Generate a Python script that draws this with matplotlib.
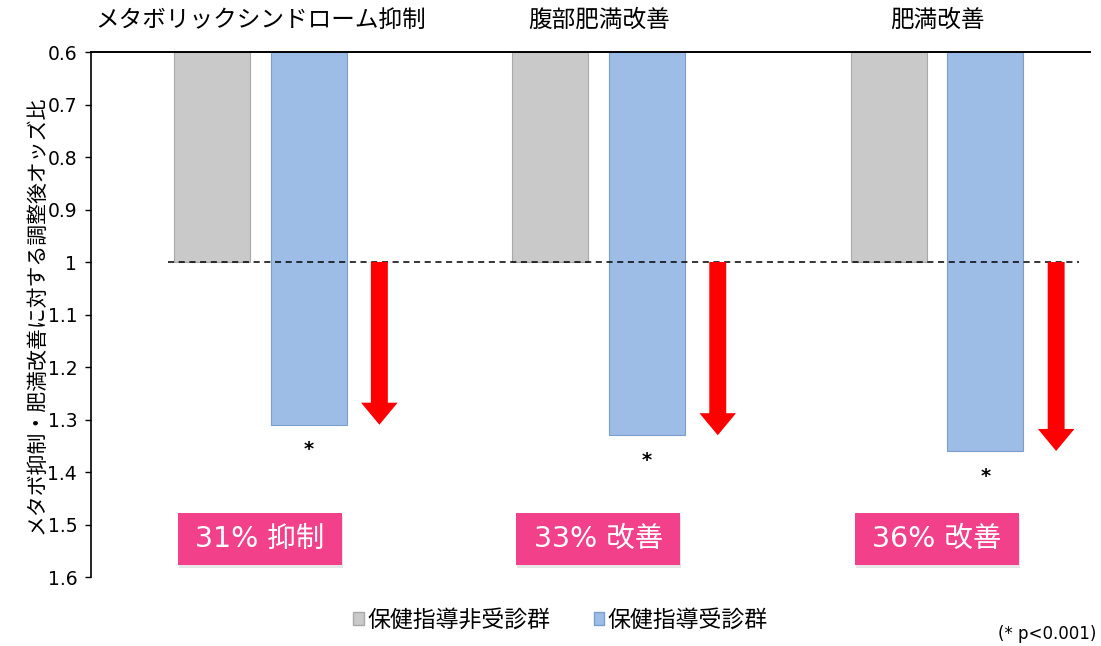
import matplotlib
matplotlib.use("Agg")
import numpy as np
import matplotlib.pyplot as plt
from matplotlib.patches import Patch, Rectangle, FancyArrow

plt.rcParams["font.family"] = ["Noto Sans CJK JP", "DejaVu Sans"]
LATIN = ["DejaVu Sans", "Noto Sans CJK JP"]

# data
categories = ["メタボリックシンドローム抑制", "腹部肥満改善", "肥満改善"]
non_guided = [1.0, 1.0, 1.0]          # 保健指導非受診群
guided = [1.31, 1.33, 1.36]           # 保健指導受診群
effect_labels = ["31% 抑制", "33% 改善", "36% 改善"]
legend_labels = ["保健指導非受診群", "保健指導受診群"]
y_ticks = [0.6, 0.7, 0.8, 0.9, 1.0, 1.1, 1.2, 1.3, 1.4, 1.5, 1.6]
y_ticklabels = ["0.6", "0.7", "0.8", "0.9", "1", "1.1", "1.2", "1.3", "1.4", "1.5", "1.6"]
baseline = 1.0
axis_top = 0.6

GRAY = "#c9c9c9"
GRAY_EDGE = "#a8a8a8"
BLUE = "#9dbde6"
BLUE_EDGE = "#7b9fcc"
RED = "#ff0000"
PINK = "#f2418a"

fig = plt.figure(figsize=(11.01, 6.46), dpi=100)
ax = fig.add_axes([0.0827, 0.1068, 0.9073, 0.8127])

x = np.arange(len(categories))
bw = 0.225
off = 0.143

ax.bar(x - off, np.array(non_guided) - axis_top, bottom=axis_top, width=bw,
       color=GRAY, edgecolor=GRAY_EDGE, linewidth=0.8)
ax.bar(x + off, np.array(guided) - axis_top, bottom=axis_top, width=bw,
       color=BLUE, edgecolor=BLUE_EDGE, linewidth=0.8)

# reference line at odds ratio 1
ax.plot([-0.272, 2.421], [baseline, baseline], color="black", lw=1.1,
        ls=(0, (4, 3)), zorder=3)

for i, v in enumerate(guided):
    # red arrow showing improvement
    ax.add_patch(FancyArrow(x[i] + 0.352, baseline, 0, v - baseline,
                            width=0.05, head_width=0.108, head_length=0.042,
                            length_includes_head=True, color=RED, lw=0, zorder=4))
    ax.text(x[i] + off, v + 0.048, "*", ha="center", va="center",
            fontsize=14, fontweight="bold", family="DejaVu Sans")
    # pink effect box with a faint shadow
    ax.add_patch(Rectangle((x[i] - 0.240, 1.483), 0.484, 0.099,
                           facecolor="#e6e6e6", edgecolor="none", zorder=3))
    ax.add_patch(Rectangle((x[i] - 0.243, 1.478), 0.484, 0.099,
                           facecolor=PINK, edgecolor="none", zorder=4))
    ax.text(x[i] - 0.001, 1.528, effect_labels[i], ha="center", va="center",
            color="white", fontsize=20.5, family=LATIN, zorder=5)
    ax.text(x[i], axis_top - 0.06, categories[i], ha="center", va="center",
            fontsize=17)

ax.set_xlim(-0.5, 2.452)
ax.set_ylim(1.6, 0.6)
ax.set_yticks(y_ticks)
ax.set_yticklabels(y_ticklabels, fontsize=13.5, family="DejaVu Sans")
ax.set_xticks([])
ax.tick_params(axis="y", direction="out", length=4, width=1, pad=6)
for s in ["right", "bottom"]:
    ax.spines[s].set_visible(False)
ax.spines["top"].set_linewidth(1.4)
ax.spines["left"].set_linewidth(1.2)
ax.set_ylabel("メタボ抑制・肥満改善に対する調整後オッズ比", fontsize=15, labelpad=0)

handles = [Patch(facecolor=GRAY, edgecolor=GRAY_EDGE),
           Patch(facecolor=BLUE, edgecolor=BLUE_EDGE)]
fig.legend(handles, legend_labels, loc="center", bbox_to_anchor=(0.509, 0.04),
           ncol=2, frameon=False, fontsize=16.5, handlelength=0.45, handleheight=0.45,
           handletextpad=0.15, columnspacing=1.9)
fig.text(0.996, 0.018, "(* p<0.001)", ha="right", va="center", fontsize=12,
         family="DejaVu Sans")

fig.savefig("out.png", dpi=100)
